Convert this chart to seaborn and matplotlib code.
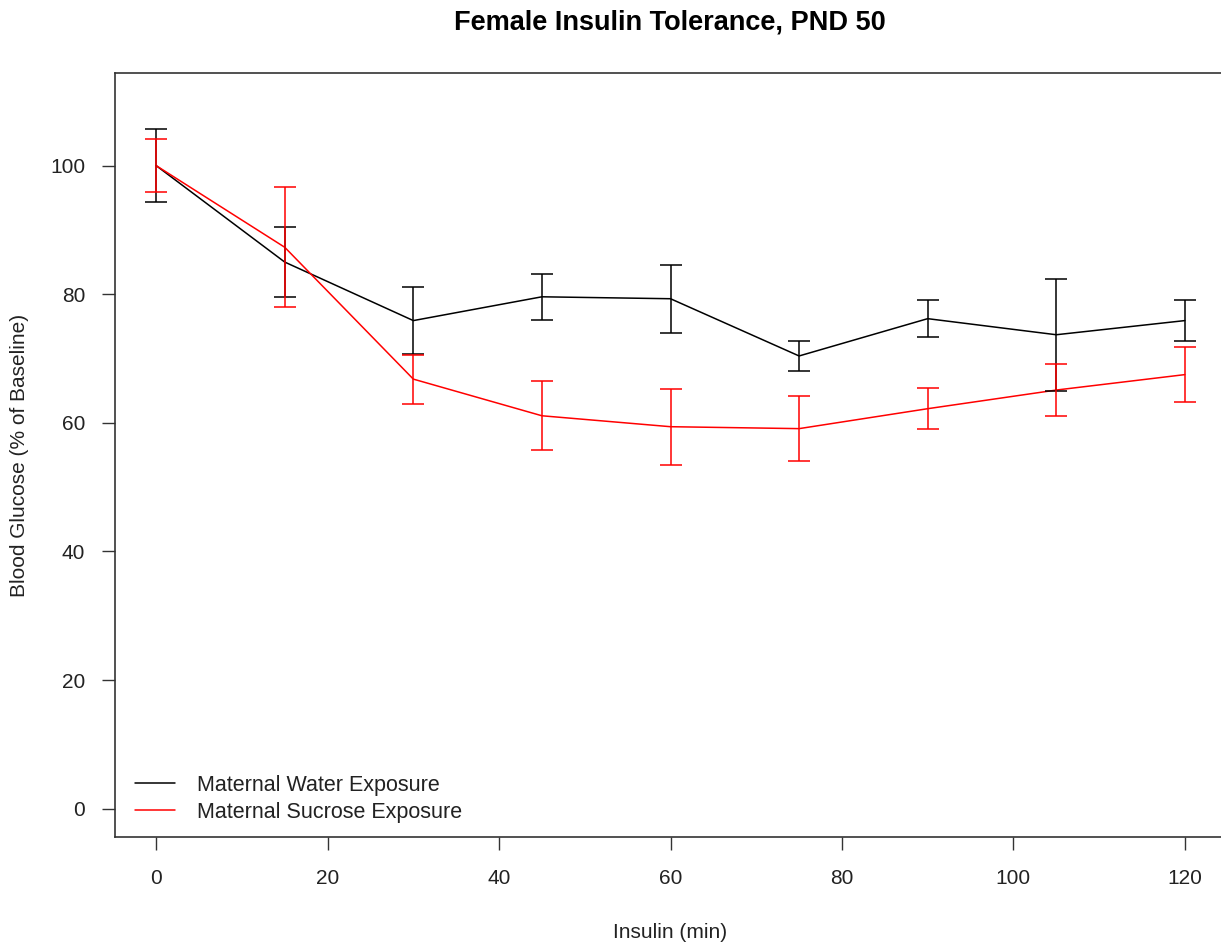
import matplotlib
matplotlib.use("Agg")
import matplotlib.pyplot as plt
import seaborn as sns
import pandas as pd
import numpy as np

time_min = [0, 15, 30, 45, 60, 75, 90, 105, 120]
water_mean = [100.0, 85.0, 75.9, 79.6, 79.3, 70.4, 76.2, 73.7, 75.9]
water_err = [5.7, 5.4, 5.2, 3.6, 5.3, 2.3, 2.9, 8.7, 3.25]
sucrose_mean = [100.0, 87.3, 66.8, 61.1, 59.4, 59.1, 62.2, 65.1, 67.5]
sucrose_err = [4.1, 9.3, 3.8, 5.4, 5.9, 5.1, 3.2, 4.0, 4.25]
groups = ["Maternal Water Exposure", "Maternal Sucrose Exposure"]
colors = ["black", "red"]

df = pd.DataFrame({
    "Insulin (min)": time_min * 2,
    "glucose": water_mean + sucrose_mean,
    "err": water_err + sucrose_err,
    "group": [groups[0]] * len(time_min) + [groups[1]] * len(time_min),
})

sns.set_theme(style="white")
plt.rcParams["font.family"] = ["Liberation Sans", "DejaVu Sans"]

fig = plt.figure(figsize=(12.21, 9.49), dpi=100)
ax = fig.add_axes([115 / 1221, 1 - 837 / 949, (1226 - 115) / 1221, (837 - 73) / 949])

sns.lineplot(data=df, x="Insulin (min)", y="glucose", hue="group",
             palette=dict(zip(groups, colors)), hue_order=groups,
             linewidth=1.1, ax=ax, legend=True)

for g, c in zip(groups, colors):
    sub = df[df["group"] == g]
    ax.errorbar(sub["Insulin (min)"], sub["glucose"], yerr=sub["err"], fmt="none",
                ecolor=c, elinewidth=1.1, capsize=8, capthick=1.1, zorder=3)

ax.set_xlim(-4.8, 124.8)
ax.set_ylim(-4.4, 114.4)
ax.set_xticks([0, 20, 40, 60, 80, 100, 120])
ax.set_yticks([0, 20, 40, 60, 80, 100])
ax.tick_params(axis="both", which="both", direction="out", length=9.4, width=1.0,
               labelsize=15, color="#333333", labelcolor="#222222",
               bottom=True, left=True)
ax.tick_params(axis="x", pad=14)
ax.tick_params(axis="y", pad=12)
for s in ax.spines.values():
    s.set_color("#333333")
    s.set_linewidth(1.2)
    s.set_visible(True)

ax.set_xlabel("")
ax.set_ylabel("")
fig.text(670 / 1221, 1 - 933 / 949, "Insulin (min)", ha="center", va="center",
         fontsize=15, color="#222222")
fig.text(20 / 1221, 1 - 455 / 949, "Blood Glucose (% of Baseline)", ha="center", va="center",
         rotation=90, fontsize=15, color="#222222")
fig.text(670 / 1221, 1 - 22 / 949, "Female Insulin Tolerance, PND 50", ha="center", va="center",
         fontsize=19.5, fontweight="bold", color="black")

handles, labels = ax.get_legend_handles_labels()
leg = ax.legend(handles, labels, loc="lower left", bbox_to_anchor=(-0.001, -0.0095), frameon=False,
                fontsize=15.5, handlelength=1.85, handletextpad=1.0, labelspacing=0.28,
                borderaxespad=0.6)
for t in leg.get_texts():
    t.set_color("#222222")

fig.savefig("out.png", dpi=100)
